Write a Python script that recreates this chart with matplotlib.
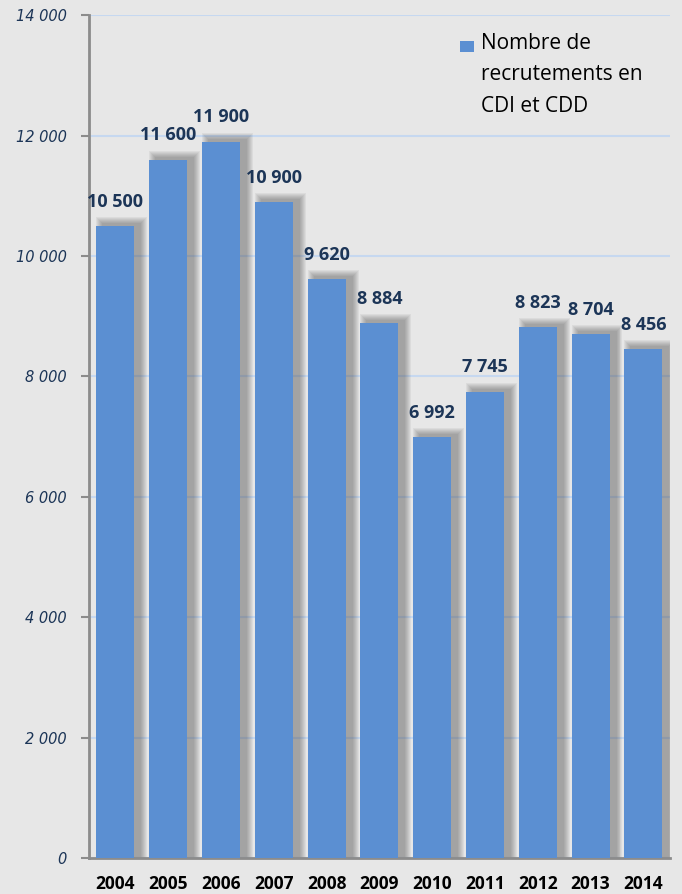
import matplotlib.pyplot as plt
from matplotlib.patches import Rectangle

years = ['2004', '2005', '2006', '2007', '2008', '2009', '2010', '2011', '2012', '2013', '2014']
recrutements = [10500, 11600, 11900, 10900, 9620, 8884, 6992, 7745, 8823, 8704, 8456]
labels = ['10 500', '11 600', '11 900', '10 900', '9 620', '8 884', '6 992', '7 745', '8 823', '8 704', '8 456']
yticks = [0, 2000, 4000, 6000, 8000, 10000, 12000, 14000]
ytick_labels = ['0', '2 000', '4 000', '6 000', '8 000', '10 000', '12 000', '14 000']
legend_label = 'Nombre de\nrecrutements en\nCDI et CDD'

bar_color = '#5b8fd2'
bg = '#e7e7e7'
navy = '#1c3557'

plt.rcParams['font.family'] = ['Open Sans', 'DejaVu Sans']

fig = plt.figure(figsize=(6.82, 8.94), dpi=100, facecolor=bg)
ax = fig.add_axes([0.1305, 0.0403, 0.8515, 0.9427], facecolor=bg)

x = list(range(len(years)))
width = 0.72

# soft shadow, offset to the right and a little upward (px -> data units)
px_x = 1 / 53.0
px_y = 14000 / 843.0
for i, v in enumerate(recrutements):
    for r in range(7, 0, -1):
        left = i - width / 2 + (7 - r) * px_x
        w = width + (2 * r - 1) * px_x
        top = v + (2 + r) * px_y
        ax.add_patch(Rectangle((left, 0), w, top, facecolor='#4a4a4a',
                               alpha=0.075, linewidth=0, zorder=2))

ax.bar(x, recrutements, width=width, color=bar_color, zorder=3)

for i, v in enumerate(recrutements):
    ax.annotate(labels[i], (i, v), xytext=(0, 11), textcoords='offset points',
                ha='center', va='bottom', fontsize=13, fontweight='bold',
                color=navy, zorder=4)

ax.set_xlim(-0.5, len(years) - 0.5)
ax.set_ylim(0, 14000)
ax.set_yticks(yticks)
ax.set_yticklabels(ytick_labels, family='DejaVu Sans',
                   fontstyle='italic', fontsize=10.5, color=navy)
ax.tick_params(axis='y', color='#8c8c8c', length=6, width=1.5, pad=10)

ax.set_xticks(x)
ax.set_xticklabels(years, fontsize=12.5, fontweight='bold', color='black')
ax.tick_params(axis='x', length=0, pad=12)

ax.grid(axis='y', color='#c6d8f0', linewidth=1.5, zorder=0)
ax.set_axisbelow(True)

for s in ['top', 'right']:
    ax.spines[s].set_visible(False)
for s in ['left', 'bottom']:
    ax.spines[s].set_color('#8c8c8c')
    ax.spines[s].set_linewidth(2)

# legend drawn by hand so the marker sits at the first line
fig.patches.append(Rectangle((460 / 682, 1 - 52 / 894), 14 / 682, 11 / 894,
                             transform=fig.transFigure, facecolor=bar_color,
                             linewidth=0))
fig.text(481 / 682, 1 - 33 / 894, legend_label, ha='left', va='top',
         fontsize=15, color='black', linespacing=1.65)

fig.savefig('out.png', dpi=100, facecolor=bg)
